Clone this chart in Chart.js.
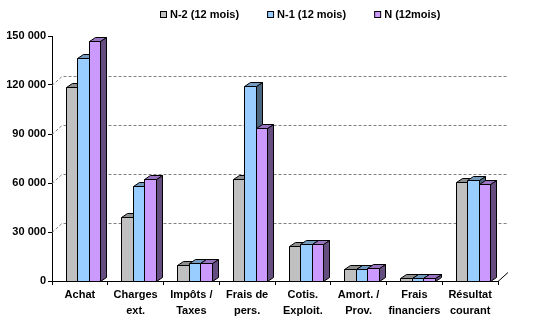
<!DOCTYPE html>
<html lang="fr">
<head>
<meta charset="utf-8">
<title>Compte de résultat – comparatif N-2 / N-1 / N</title>
<script src="https://cdn.jsdelivr.net/npm/chart.js@4.4.1/dist/chart.umd.min.js"></script>
<style>
  html, body { margin: 0; padding: 0; background: #ffffff; }
  #wrap { width: 538px; height: 328px; }
</style>
</head>
<body>
<div id="wrap"><canvas id="chart" width="538" height="328"></canvas></div>
<script>
// Postes du compte de résultat (libellés sur deux lignes)
const categories = [
  ['Achat'],
  ['Charges', 'ext.'],
  ['Impôts /', 'Taxes'],
  ['Frais de', 'pers.'],
  ['Cotis.', 'Exploit.'],
  ['Amort. /', 'Prov.'],
  ['Frais', 'financiers'],
  ['Résultat', 'courant']
];

// Montants par exercice (en euros)
const seriesN2 = [119000, 39000, 9600, 62500, 21200, 7500, 1800, 60400];
const seriesN1 = [136300, 58200, 11200, 119400, 22500, 7500, 1800, 62000];
const seriesN  = [147000, 62300, 11200, 93700, 22500, 7700, 1800, 59200];

const seriesLabels = ['N-2 (12 mois)', 'N-1 (12 mois)', 'N (12mois)'];

// Axe des valeurs
const yMin = 0;
const yMax = 150000;
const yStep = 30000;

// Couleurs : face avant, dessus, côté
const palette = [
  { front: '#C0C0C0', top: '#8F8F8F', side: '#606060' },
  { front: '#99CCFF', top: '#7399BF', side: '#4D6680' },
  { front: '#CC99FF', top: '#9973BF', side: '#664D80' }
];

const FONT = { family: '"Liberation Sans", Arial, sans-serif', size: 11, weight: 'bold' };
const TICK_FONT_X = { family: FONT.family, size: 11, weight: 'bold', lineHeight: 16 / 11 };
const TEXT = '#000000';

// Profondeur des colonnes et du fond en perspective
const BAR_DX = 6, BAR_DY = 4;
const WALL_DX = 10, WALL_DY = 9;
const GROUP_SHIFT = 3;

function fmt(v) {
  return String(v).replace(/\B(?=(\d{3})+(?!\d))/g, ' ');
}

function drawBox(ctx, x0, x1, top, base, c) {
  const l = Math.round(x0) + 0.5;
  const r = Math.round(x1) + 0.5;
  const t = Math.round(top) + 0.5;
  const b = Math.round(base) + 0.5;
  ctx.lineWidth = 1;
  ctx.strokeStyle = '#000000';
  ctx.lineJoin = 'miter';
  // côté droit
  ctx.beginPath();
  ctx.moveTo(r, t);
  ctx.lineTo(r + BAR_DX, t - BAR_DY);
  ctx.lineTo(r + BAR_DX, b - BAR_DY);
  ctx.lineTo(r, b);
  ctx.closePath();
  ctx.fillStyle = c.side;
  ctx.fill();
  ctx.stroke();
  // dessus
  ctx.beginPath();
  ctx.moveTo(l, t);
  ctx.lineTo(l + BAR_DX, t - BAR_DY);
  ctx.lineTo(r + BAR_DX, t - BAR_DY);
  ctx.lineTo(r, t);
  ctx.closePath();
  ctx.fillStyle = c.top;
  ctx.fill();
  ctx.stroke();
  // face avant
  ctx.beginPath();
  ctx.rect(l, t, r - l, b - t);
  ctx.fillStyle = c.front;
  ctx.fill();
  ctx.stroke();
}

const perspective3D = {
  id: 'perspective3D',
  beforeDatasetsDraw(chart) {
    const ctx = chart.ctx;
    const area = chart.chartArea;
    const y = chart.scales.y;

    // quadrillage sur le fond (pointillés)
    ctx.save();
    ctx.strokeStyle = '#808080';
    ctx.lineWidth = 1;
    ctx.setLineDash([3, 2]);
    for (let v = yMin + yStep; v < yMax; v += yStep) {
      const py = Math.round(y.getPixelForValue(v)) + 0.5;
      ctx.beginPath();
      ctx.moveTo(area.left, py);
      ctx.lineTo(area.left + WALL_DX, py - WALL_DY);
      ctx.lineTo(area.right + WALL_DX, py - WALL_DY);
      ctx.stroke();
    }
    ctx.restore();

    // arête du plancher à droite
    ctx.save();
    ctx.strokeStyle = '#000000';
    ctx.lineWidth = 1;
    const by = Math.round(area.bottom) + 0.5;
    ctx.beginPath();
    ctx.moveTo(area.right, by);
    ctx.lineTo(area.right + WALL_DX, by - WALL_DY);
    ctx.stroke();
    ctx.restore();

    // colonnes en relief
    ctx.save();
    const metas = chart.data.datasets.map((_, i) => chart.getDatasetMeta(i));
    for (let i = 0; i < categories.length; i++) {
      metas.forEach((meta, d) => {
        const el = meta.data[i];
        if (!el) return;
        const half = el.width / 2;
        drawBox(ctx, el.x - half + GROUP_SHIFT, el.x + half + GROUP_SHIFT, el.y, el.base, palette[d]);
      });
    }
    ctx.restore();
    return false;
  },
  afterDraw(chart) {
    // légende
    const ctx = chart.ctx;
    ctx.save();
    ctx.font = `${FONT.weight} ${FONT.size}px ${FONT.family}`;
    ctx.textBaseline = 'middle';
    ctx.textAlign = 'left';
    const box = 6, gapText = 4, gapItem = 28;
    const widths = seriesLabels.map(t => ctx.measureText(t).width);
    const total = widths.reduce((s, w) => s + box + gapText + w, 0) + gapItem * (seriesLabels.length - 1);
    let x = Math.round(300 - total / 2);
    const cy = 15;
    seriesLabels.forEach((t, d) => {
      ctx.fillStyle = palette[d].front;
      ctx.fillRect(x + 0.5, cy - 3.5, box, box);
      ctx.strokeStyle = '#000000';
      ctx.lineWidth = 1;
      ctx.strokeRect(x + 0.5, cy - 3.5, box, box);
      ctx.fillStyle = TEXT;
      ctx.fillText(t, x + box + gapText, cy);
      x += box + gapText + widths[d] + gapItem;
    });
    ctx.restore();
  }
};

new Chart(document.getElementById('chart'), {
  type: 'bar',
  data: {
    labels: categories,
    datasets: [
      { label: seriesLabels[0], data: seriesN2, backgroundColor: palette[0].front },
      { label: seriesLabels[1], data: seriesN1, backgroundColor: palette[1].front },
      { label: seriesLabels[2], data: seriesN,  backgroundColor: palette[2].front }
    ]
  },
  options: {
    responsive: false,
    animation: false,
    devicePixelRatio: 1,
    categoryPercentage: 0.62,
    barPercentage: 1.0,
    layout: { padding: { left: 0, right: 40, top: 36, bottom: 0 } },
    plugins: {
      legend: { display: false },
      tooltip: { enabled: false }
    },
    scales: {
      x: {
        afterFit(scale) { scale.height = 47; },
        grid: {
          offset: true,
          drawOnChartArea: false,
          drawTicks: true,
          tickLength: 4,
          color: '#000000'
        },
        border: { display: true, color: '#000000', width: 1 },
        ticks: {
          font: TICK_FONT_X,
          color: TEXT,
          padding: 2,
          maxRotation: 0,
          autoSkip: false
        }
      },
      y: {
        min: yMin,
        max: yMax,
        afterFit(scale) { scale.width = 52; },
        grid: {
          drawOnChartArea: false,
          drawTicks: true,
          tickLength: 4,
          color: '#000000'
        },
        border: { display: true, color: '#000000', width: 1 },
        ticks: {
          stepSize: yStep,
          font: FONT,
          color: TEXT,
          padding: 2,
          callback: v => fmt(v)
        }
      }
    }
  },
  plugins: [perspective3D]
});
</script>
</body>
</html>
